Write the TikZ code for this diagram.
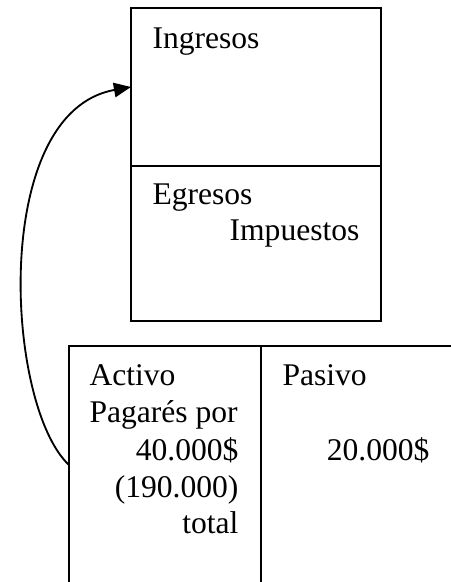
\documentclass[tikz,border=0pt]{standalone}
\usepackage{fontspec}
\setmainfont{Liberation Serif}
\usetikzlibrary{arrows.meta}

\tikzset{
  texto/.style={inner sep=0pt, font=\fontsize{12}{14}\selectfont},
  linea/.style={line width=0.8pt},
}

\begin{document}
\begin{tikzpicture}[x=0.38pt, y=-0.38pt]

    \useasboundingbox (0, 0) rectangle (451, 582);

    % Estado de resultados
    \draw[linea] (131, 8) rectangle (381, 166);
    \draw[linea] (131, 166) rectangle (381, 321);
    \coordinate (ingresos) at (131, 87);

    \node[texto, anchor=base west] (ing) at (152, 48) {Ingresos};
    \node[texto, anchor=base west] (egr) at (152, 204) {Egresos};
    \node[texto, anchor=base east] (imp) at (360, 240) {Impuestos};

    % Balance (cuenta T)
    \draw[linea] (69, 582) -- (69, 346) -- (451, 346);
    \draw[linea] (261, 346) -- (261, 582);
    \coordinate (activo) at (69, 465);

    \node[texto, anchor=base west] (act) at (89, 385) {Activo};
    \node[texto, anchor=base west] (pag) at (89, 422) {Pagarés por};
    \node[texto, anchor=base east] (monto) at (239, 460) {40.000\$};
    \node[texto, anchor=base east] (cifra) at (239, 497) {(190.000)};
    \node[texto, anchor=base east] (tot) at (239, 533) {total};

    \node[texto, anchor=base west] (pas) at (282, 385) {Pasivo};
    \node[texto, anchor=base east] (deuda) at (430, 460) {20.000\$};

    % Flecha
    \draw[-{Triangle[length=6.5pt, width=5.5pt]}, line width=0.7pt]
      (activo) .. controls (5, 405) and (-10, 112) .. (ingresos);

  \end{tikzpicture}
\end{document}
